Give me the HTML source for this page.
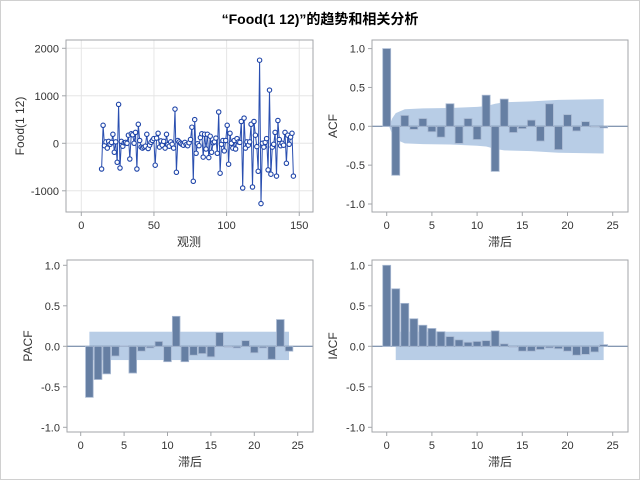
<!DOCTYPE html>
<html><head><meta charset="utf-8"><style>
html,body{margin:0;padding:0;background:#fff}
#c{width:638px;height:478px;border:1px solid #d0d0d0;position:relative}
svg text{font-family:"Liberation Sans","Noto Sans CJK SC",sans-serif;fill:#333}
</style></head><body><div id="c">
<svg id="s" width="638" height="478" viewBox="1 1 638 478" xmlns="http://www.w3.org/2000/svg">
<text x="320" y="24" text-anchor="middle" font-size="14" font-weight="bold" style="fill:#000">“Food(1 12)”的趋势和相关分析</text>
</svg></div>
<script>
const s=document.getElementById('s');let h='';
function frame(x0,y0,x1,y1){h+=`<rect x="${x0}" y="${y0}" width="${x1-x0}" height="${y1-y0}" fill="none" stroke="#a3a6aa" stroke-width="1"/>`;}
function t(x,y,str,a,sz){h+=`<text x="${x}" y="${y}" text-anchor="${a||'middle'}" font-size="${sz||11}">${str}</text>`;}
{const X=v=>81.3+1.453*v,Y=v=>143.3-0.0475*v;
for(const v of [-1000,0,1000,2000])h+=`<line x1="66" x2="313" y1="${Y(v)}" y2="${Y(v)}" stroke="#e6e6e6"/>`;
for(const v of [0,50,100,150])h+=`<line y1="40" y2="212" x1="${X(v)}" x2="${X(v)}" stroke="#e6e6e6"/>`;
frame(66,40,313,212);
for(const v of [-1000,0,1000,2000]){h+=`<line x1="62" x2="66" y1="${Y(v)}" y2="${Y(v)}" stroke="#a3a6aa"/>`;t(59,Y(v)+4,v,'end');}
for(const v of [0,50,100,150]){h+=`<line y1="212" y2="216" x1="${X(v)}" x2="${X(v)}" stroke="#a3a6aa"/>`;t(X(v),229,v);}
t(189,246,'观测','middle',12);
h+=`<text transform="translate(24,126) rotate(-90)" text-anchor="middle" font-size="12">Food(1 12)</text>`;
const d=[-540,380,-50,30,-100,40,-20,20,190,-190,30,-400,820,-520,40,-60,10,20,0,170,-330,200,180,0,230,-540,400,60,-80,-100,-80,-60,190,-110,-40,20,60,100,-460,110,210,-80,50,-40,40,-100,190,-30,-60,30,-20,-100,720,-610,60,30,0,-20,-40,20,-30,-50,10,80,340,-800,500,-210,-10,-50,120,200,-290,190,-120,190,-300,150,-190,10,30,110,-210,660,-630,-20,60,-160,60,380,-440,210,0,-100,60,-120,100,30,20,460,-940,530,-100,30,-40,30,400,-920,460,170,-70,-590,1750,-1270,0,-80,20,100,-560,1120,-650,-80,-20,230,-690,480,80,-50,0,-40,230,-420,170,-20,130,210,-690];
const n=d.length,T=i=>14+i*132/(n-1);
let p='';d.forEach((v,i)=>{p+=(i?'L':'M')+X(T(i)).toFixed(1)+','+Y(v).toFixed(1);});
h+=`<path d="${p}" fill="none" stroke="#2a4fb0" stroke-width="1"/>`;
d.forEach((v,i)=>{h+=`<circle cx="${X(T(i)).toFixed(1)}" cy="${Y(v).toFixed(1)}" r="2.2" fill="#fff" stroke="#1e44a8" stroke-width="1.1"/>`;});
}
function corr(x0,x1,y0,y1,X0,pxl,Y0,pu,vals,start,band,ylabel){
 const X=l=>X0+pxl*l,Y=v=>Y0-pu*v;
 h+=band(X,Y);
 h+=`<line x1="${x0}" x2="${x1}" y1="${Y(0)}" y2="${Y(0)}" stroke="#5d7798" stroke-width="1"/>`;
 vals.forEach((v,i)=>{const l=start+i,w=pxl*0.88,yt=Math.min(Y(0),Y(v)),hh=Math.abs(Y(v)-Y(0));
  h+=`<rect x="${X(l)-w/2}" y="${yt}" width="${w}" height="${Math.max(hh,0.5)}" fill="#667fa3" stroke="#a9b9d2" stroke-width="0.8"/>`;});
 frame(x0,y0,x1,y1);
 for(const v of [-1,-0.5,0,0.5,1]){h+=`<line x1="${x0-4}" x2="${x0}" y1="${Y(v)}" y2="${Y(v)}" stroke="#a3a6aa"/>`;t(x0-7,Y(v)+4,v.toFixed(1),'end');}
 for(const v of [0,5,10,15,20,25]){h+=`<line y1="${y1}" y2="${y1+4}" x1="${X(v)}" x2="${X(v)}" stroke="#a3a6aa"/>`;t(X(v),y1+17,v);}
 t((x0+x1)/2,y1+34,'滞后','middle',12);
 h+=`<text transform="translate(${x0-35},${(y0+y1)/2}) rotate(-90)" text-anchor="middle" font-size="12">${ylabel}</text>`;
}
function rectBand(a,b,top,bot){return (X,Y)=>`<rect x="${X(a)}" y="${Y(top)}" width="${X(b)-X(a)}" height="${Y(bot)-Y(top)}" fill="#b8cde6"/>`;}
corr(372,628,40,212,386.7,9.04,126.3,77.7,
[1,-0.63,0.14,-0.04,0.1,-0.07,-0.14,0.29,-0.22,0.1,-0.17,0.4,-0.58,0.35,-0.08,-0.03,0.08,-0.19,0.29,-0.3,0.15,-0.06,0.06,-0.01,-0.02],0,
(X,Y)=>{const up=[[0.3,0.01],[0.6,0.1],[1,0.17],[2,0.22],[4,0.23],[7,0.235],[10,0.25],[11,0.26],[12,0.29],[13,0.31],[16,0.32],[19,0.34],[24,0.35]];
 let p='M'+up.map(q=>X(q[0])+','+Y(q[1])).join('L');p+='L'+up.slice().reverse().map(q=>X(q[0])+','+Y(-q[1])).join('L')+'Z';return `<path d="${p}" fill="#b8cde6"/>`;},'ACF');
corr(67,313,260,432,80.7,8.68,346.3,81,
[-0.63,-0.41,-0.34,-0.12,0.005,-0.33,-0.06,-0.02,0.06,-0.19,0.37,-0.19,-0.11,-0.09,-0.13,0.17,-0.01,-0.02,0.07,-0.08,-0.02,-0.16,0.33,-0.06],1,
rectBand(1,24,0.18,-0.17),'PACF');
corr(372,628,260,432,386.7,9.04,346.3,81,
[1,0.71,0.53,0.34,0.26,0.22,0.18,0.12,0.08,0.05,0.06,0.07,0.19,0.03,-0.01,-0.06,-0.06,-0.04,-0.02,-0.03,-0.06,-0.11,-0.1,-0.07,0.02],0,
rectBand(1,24,0.18,-0.17),'IACF');
s.insertAdjacentHTML('beforeend',h);
</script></body></html>
